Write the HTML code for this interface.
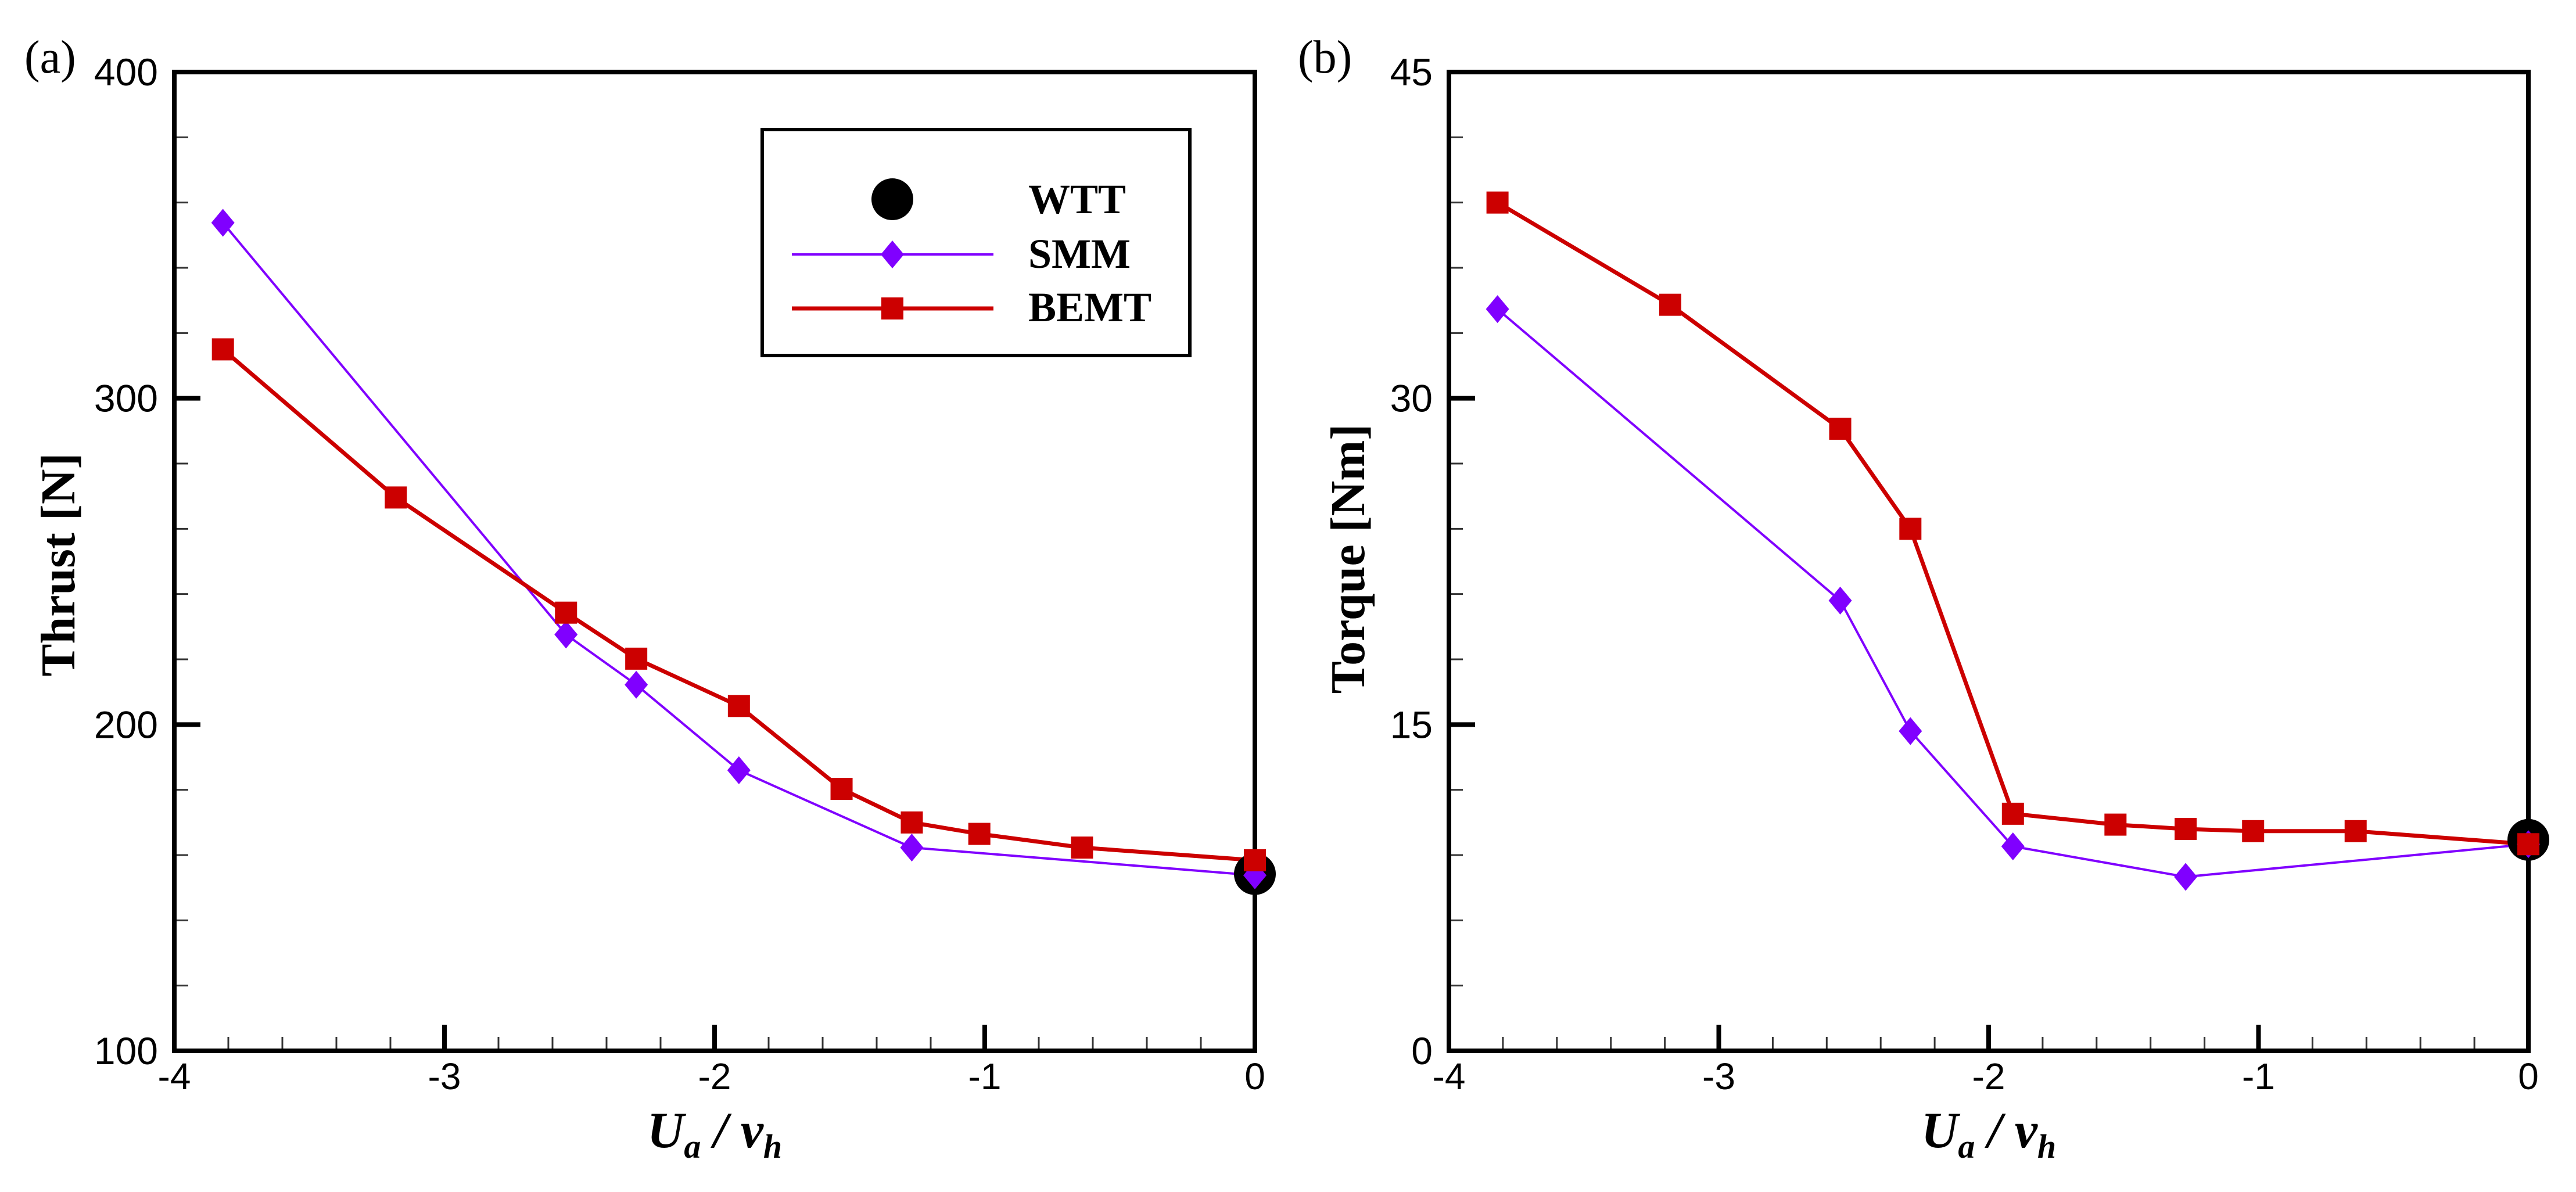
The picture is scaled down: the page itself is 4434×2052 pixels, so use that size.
<!DOCTYPE html>
<html><head><meta charset="utf-8"><style>
html,body{margin:0;padding:0;background:#fff;}
svg{display:block;}
</style></head><body>
<svg id="fig" xmlns="http://www.w3.org/2000/svg" width="4434" height="2052" viewBox="0 0 4434 2052">
<rect x="0" y="0" width="4434" height="2052" fill="#fff"/>
</svg>
<script>
// ---- data ----
const xBemt = [-3.82, -3.18, -2.55, -2.29, -1.91, -1.53, -1.27, -1.02, -0.64, 0];
const xSmm = [-3.82, -2.55, -2.29, -1.91, -1.27, 0];
const xWtt = [0];
const thrustBemt = [315, 269.6, 234.3, 220.2, 205.7, 180.3, 170, 166.5, 162.3, 158.4];
const thrustSmm = [353.8, 227.6, 212.2, 186, 162.3, 153.8];
const thrustWtt = [154.2];
const torqueBemt = [39.0, 34.3, 28.6, 24.0, 10.9, 10.4, 10.2, 10.1, 10.1, 9.5];
const torqueSmm = [34.1, 20.7, 14.7, 9.4, 8.0, 9.5];
const torqueWtt = [9.7];
const xTicks = [-4, -3, -2, -1, 0];
const thrustTicks = [100, 200, 300, 400];
const torqueTicks = [0, 15, 30, 45];

const NS = 'http://www.w3.org/2000/svg';
const svg = document.getElementById('fig');
function mk(tag, attrs, parent) {
  const e = document.createElementNS(NS, tag);
  for (const k in attrs) e.setAttribute(k, attrs[k]);
  (parent || svg).appendChild(e);
  return e;
}
const PURPLE = '#8000ff', RED = '#cc0000';

function panel(o) {
  const g = mk('g', {});
  
  
  const L = o.left, R = o.right, T = 124, B = 1809;
  const xs = v => L + (v - (-4)) / 4 * (R - L);
  const ys = v => B - (v - o.ymin) / (o.ymax - o.ymin) * (B - T);
  // minor ticks x
  for (let i = 0; i <= 20; i++) {
    const v = -4 + i * 0.2;
    if (i % 5 === 0) continue;
    const t = mk('line', {x1: xs(v), x2: xs(v), y1: B, y2: B - 24, stroke: '#333', 'stroke-width': 3}, g);
    
    
  }
  const ystep = (o.ymax - o.ymin) / 15;
  for (let i = 1; i < 15; i++) {
    if (i % 5 === 0) continue;
    const v = o.ymin + i * ystep;
    const t = mk('line', {x1: L, x2: L + 24, y1: ys(v), y2: ys(v), stroke: '#333', 'stroke-width': 3}, g);
    
    
  }
  xTicks.forEach(v => {
    const t = mk('line', {x1: xs(v), x2: xs(v), y1: B, y2: B - 45, stroke: '#000', 'stroke-width': 8}, g);
    
    
    const lb = mk('text', {x: xs(v), y: 1875, 'text-anchor': 'middle', 'font-family': 'Liberation Sans, sans-serif', 'font-size': 64}, g);
    lb.textContent = String(v);
    
    
  });
  o.yticks.forEach(v => {
    const t = mk('line', {x1: L, x2: L + 45, y1: ys(v), y2: ys(v), stroke: '#000', 'stroke-width': 8}, g);
    
    
    const lb = mk('text', {x: L - 28, y: ys(v) + 23, 'text-anchor': 'end', 'font-family': 'Liberation Sans, sans-serif', 'font-size': 66}, g);
    lb.textContent = String(v);
    
    
  });
  // frame
  const fr = mk('rect', {x: L, y: T, width: R - L, height: B - T, fill: 'none', stroke: '#000', 'stroke-width': 8}, g);
  
  
  // SMM line
  const sp = xSmm.map((v, i) => xs(v) + ',' + ys(o.smm[i])).join(' ');
  const sl = mk('polyline', {points: sp, fill: 'none', stroke: PURPLE, 'stroke-width': 4}, g);
  
  
  // BEMT line
  const bp = xBemt.map((v, i) => xs(v) + ',' + ys(o.bemt[i])).join(' ');
  const bl = mk('polyline', {points: bp, fill: 'none', stroke: RED, 'stroke-width': 7}, g);
  
  
  // WTT
  xWtt.forEach((v, i) => {
    const c = mk('circle', {cx: xs(v), cy: ys(o.wtt[i]), r: 36, fill: '#000'}, g);
    
    
  });
  xSmm.forEach((v, i) => {
    const cx = xs(v), cy = ys(o.smm[i]);
    const d = mk('polygon', {points: `${cx},${cy-24} ${cx+20},${cy} ${cx},${cy+24} ${cx-20},${cy}`, fill: PURPLE}, g);
    
    
  });
  xBemt.forEach((v, i) => {
    const cx = xs(v), cy = ys(o.bemt[i]);
    const s = mk('rect', {x: cx - 19, y: cy - 19, width: 38, height: 38, fill: RED}, g);
    
    
  });
  // titles
  const yt = mk('text', {x: 0, y: 0, transform: `translate(${o.ytx},${o.yty}) rotate(-90)`, 'text-anchor': 'middle', 'font-family': 'Liberation Serif, serif', 'font-weight': 'bold', 'font-size': 84}, g);
  yt.textContent = o.ytitle;
  
  
  const xt = mk('text', {x: (L + R) / 2, y: 1975, 'text-anchor': 'middle', 'font-family': 'Liberation Serif, serif', 'font-weight': 'bold', 'font-style': 'italic', 'font-size': 88}, g);
  xt.innerHTML = 'U<tspan font-size="58" dy="18">a</tspan><tspan dy="-18"> / v</tspan><tspan font-size="58" dy="18">h</tspan>';
  
  
  const pl = mk('text', {x: o.labx, y: 125, 'font-family': 'Liberation Serif, serif', 'font-size': 80}, g);
  pl.textContent = o.label;
  
  
}

panel({name: 'thrust-panel', left: 300, right: 2160, ymin: 100, ymax: 400, yticks: thrustTicks,
  smm: thrustSmm, bemt: thrustBemt, wtt: thrustWtt, ytitle: 'Thrust [N]', ytx: 128, yty: 972, label: '(a)', labx: 42});
panel({name: 'torque-panel', left: 2494, right: 4352, ymin: 0, ymax: 45, yticks: torqueTicks,
  smm: torqueSmm, bemt: torqueBemt, wtt: torqueWtt, ytitle: 'Torque [Nm]', ytx: 2348, yty: 962, label: '(b)', labx: 2234});

// legend
const lg = mk('g', {});


const lbx = mk('rect', {x: 1312, y: 223, width: 736, height: 389, fill: '#fff', stroke: '#000', 'stroke-width': 6}, lg);


const lc = mk('circle', {cx: 1536, cy: 343, r: 36, fill: '#000'}, lg);


const l1 = mk('line', {x1: 1363, x2: 1710, y1: 438, y2: 438, stroke: PURPLE, 'stroke-width': 4}, lg);


const ld = mk('polygon', {points: '1536,414 1556,438 1536,462 1516,438', fill: PURPLE}, lg);


const l2 = mk('line', {x1: 1363, x2: 1710, y1: 531, y2: 531, stroke: RED, 'stroke-width': 7}, lg);


const lq = mk('rect', {x: 1517, y: 512, width: 38, height: 38, fill: RED}, lg);


[['WTT', 367], ['SMM', 461], ['BEMT', 553]].forEach(([t, y]) => {
  const e = mk('text', {x: 1770, y: y, 'font-family': 'Liberation Serif, serif', 'font-weight': 'bold', 'font-size': 72}, lg);
  e.textContent = t;
  
  
});
</script>
</body></html>
